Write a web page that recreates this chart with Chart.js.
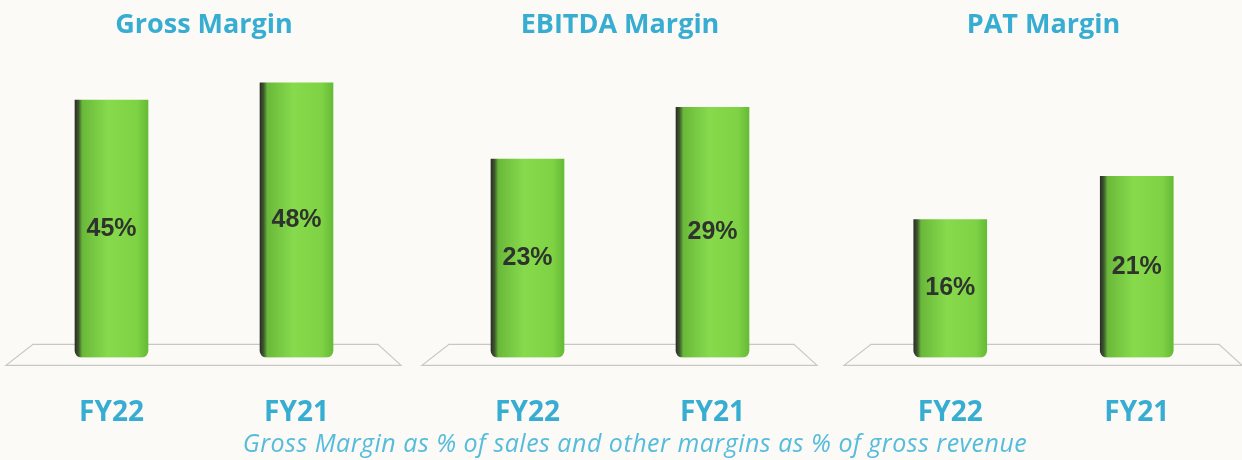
<!DOCTYPE html>
<html>
<head>
<meta charset="utf-8">
<script src="https://cdn.jsdelivr.net/npm/chart.js@4"></script>
<style>
  html, body { margin: 0; padding: 0; background: #fbfaf7; }
  #page { position: relative; width: 1242px; height: 460px; overflow: hidden; }
  canvas { position: absolute; top: 0; }
  #note {
    position: absolute; left: 0; width: 1270px; top: 430px; line-height: 25px;
    text-align: center; font-family: "Open Sans", sans-serif; font-style: italic;
    font-size: 25px; letter-spacing: 0.5px; color: #55bcdc; white-space: nowrap;
  }
</style>
</head>
<body>
<div id="page">
  <canvas id="gross" width="420" height="471" style="left:0"></canvas>
  <canvas id="ebitda" width="410" height="471" style="left:420px"></canvas>
  <canvas id="pat" width="412" height="471" style="left:830px"></canvas>
  <div id="note">Gross Margin as % of sales and other margins as % of gross revenue</div>
</div>
<script>
// data
const years = ['FY22', 'FY21'];
const grossMargin = [45, 48];
const ebitdaMargin = [23, 29];
const patMargin = [16, 21];

const teal = '#38add2';

// floor outline under the cylinders
const floorPlugin = {
    id: 'floor',
    beforeDatasetsDraw(chart) {
        const { ctx, chartArea: a } = chart;
        ctx.save();
        ctx.strokeStyle = '#c9c7c2';
        ctx.lineWidth = 1.2;
        ctx.beginPath();
        ctx.moveTo(a.left + 14, a.bottom - 13);
        ctx.lineTo(a.right - 11, a.bottom - 13);
        ctx.lineTo(a.right + 12, a.bottom + 8);
        ctx.lineTo(a.left - 13, a.bottom + 8);
        ctx.closePath();
        ctx.stroke();
        ctx.restore();
    }
};

// percent labels in the middle of each bar
const valuePlugin = {
    id: 'values',
    afterDatasetsDraw(chart) {
        const { ctx } = chart;
        const meta = chart.getDatasetMeta(0);
        ctx.save();
        ctx.font = 'bold 25px "Liberation Sans", Arial, sans-serif';
        ctx.fillStyle = '#2f332d';
        ctx.textAlign = 'center';
        ctx.textBaseline = 'middle';
        meta.data.forEach((bar, i) => {
            const v = chart.data.datasets[0].data[i];
            ctx.fillText(v + '%', bar.x, (bar.y + bar.base) / 2);
        });
        ctx.restore();
    }
};

function cylinder(c) {
    const chart = c.chart;
    if (!chart.chartArea) return '#7fd444';
    const x = chart.scales.x.getPixelForValue(c.dataIndex);
    const g = chart.ctx.createLinearGradient(x - 36.5, 0, x + 36.5, 0);
    g.addColorStop(0, '#2a2f27');
    g.addColorStop(0.05, '#3f5a2e');
    g.addColorStop(0.1, '#6ab83a');
    g.addColorStop(0.45, '#86da4c');
    g.addColorStop(0.85, '#7ed244');
    g.addColorStop(1, '#66bb36');
    return g;
}

function makeChart(id, title, values, yMax, padL, padR) {
    return new Chart(document.getElementById(id), {
        type: 'bar',
        data: {
            labels: years,
            datasets: [{
                data: values,
                backgroundColor: cylinder,
                barThickness: 73,
                borderRadius: { topLeft: 0, topRight: 0, bottomLeft: 7, bottomRight: 7 },
                borderSkipped: false
            }]
        },
        options: {
            responsive: false,
            animation: false,
            layout: { padding: { left: padL, right: padR, top: 0, bottom: 2 } },
            plugins: {
                legend: { display: false },
                tooltip: { enabled: false },
                title: {
                    display: true,
                    text: title,
                    color: teal,
                    font: { family: 'Open Sans', size: 27, weight: 'bold', lineHeight: 1.2 },
                    padding: { top: 9, bottom: 18.6 }
                }
            },
            scales: {
                x: {
                    grid: { display: false, drawTicks: false },
                    border: { display: false },
                    ticks: {
                        color: teal,
                        padding: 39,
                        font: { family: 'Open Sans', size: 28, weight: 'bold', lineHeight: 1.2 }
                    }
                },
                y: { display: false, min: 0, max: yMax }
            }
        },
        plugins: [floorPlugin, valuePlugin]
    });
}

makeChart('gross', 'Gross Margin', grossMargin, 52, 19, 31);
makeChart('ebitda', 'EBITDA Margin', ebitdaMargin, 34.5, 15, 25);
makeChart('pat', 'PAT Margin', patMargin, 34.5, 27, 12);
</script>
</body>
</html>
